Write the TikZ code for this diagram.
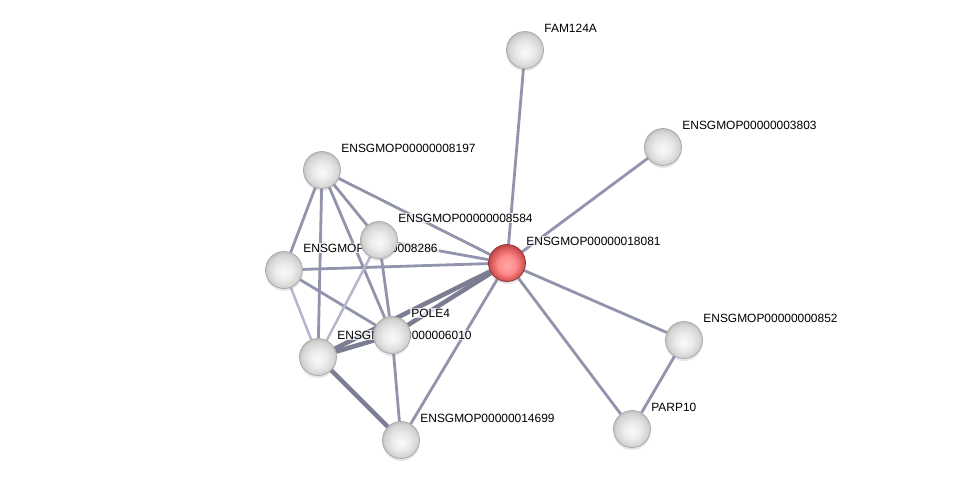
\documentclass[tikz,border=0pt]{standalone}
\usepackage{fontspec}
\setmainfont{Liberation Sans}
\usetikzlibrary{shadows}
\definecolor{edgecol}{RGB}{145,148,172}
\definecolor{edgelight}{RGB}{180,182,202}
\definecolor{queryrim}{RGB}{170,60,65}
\pgfdeclareradialshading{protball}{\pgfpoint{0bp}{-4bp}}{color(0bp)=(gray!4); color(12bp)=(gray!16); color(22bp)=(gray!34); color(27bp)=(gray!55); color(30bp)=(gray!65)}
\pgfdeclareradialshading{queryball}{\pgfpoint{0bp}{-4bp}}{color(0bp)=(red!35!white); color(12bp)=(red!45!white); color(22bp)=(red!60!white!85!black); color(27bp)=(queryrim); color(30bp)=(queryrim)}
\pgfdeclarelayer{edges}
\pgfdeclarelayer{labels}
\pgfsetlayers{edges,labels,main}
\begin{document}
\begin{tikzpicture}[x=0.02cm,y=-0.02cm,line cap=round,
		prot/.style={circle,inner sep=0pt,minimum size=0.74cm,shading=protball,draw=gray!70,line width=0.4pt,
			drop shadow={shadow xshift=0pt,shadow yshift=-0.05cm,opacity=0.2}},
		query/.style={prot,shading=queryball,draw=queryrim!80!black},
		lbl/.style={font=\fontsize{6.8}{8}\selectfont,anchor=west,inner sep=0.6pt,fill=white,fill opacity=0.75,text opacity=1},
		link/.style={draw=edgecol,line width=1.6pt},
		strong/.style={draw=edgecol!85!black,line width=2.6pt},
		weak/.style={draw=edgelight,line width=1.4pt}]
	\useasboundingbox (0,0) rectangle (975,485);
	% proteins
	\node[query] (q) at (507,263) {};
	\node[prot] (fam) at (525,50) {};
	\node[prot] (e3803) at (663,147) {};
	\node[prot] (e8197) at (322,170) {};
	\node[prot] (e8584) at (379,240) {};
	\node[prot] (e8286) at (284,270) {};
	\node[prot] (pole) at (392,335) {};
	\node[prot] (e6010) at (318,357) {};
	\node[prot] (e852) at (684,340) {};
	\node[prot] (parp) at (632,429) {};
	\node[prot] (e14699) at (401,440) {};
	% names
	\begin{pgfonlayer}{labels}
		\foreach \n/\t in {q/ENSGMOP00000018081,fam/FAM124A,e3803/ENSGMOP00000003803,
			e8197/ENSGMOP00000008197,e8584/ENSGMOP00000008584,e8286/ENSGMOP00000008286,
			pole/POLE4,e6010/ENSGMOP00000006010,e852/ENSGMOP00000000852,
			parp/PARP10,e14699/ENSGMOP00000014699}
		\node[lbl] (l\n) at ([shift={(18,-22)}]\n.center) {\t};
	\end{pgfonlayer}
	% links
	\begin{pgfonlayer}{edges}
		\foreach \a/\b in {q/fam,q/e3803,q/e8197,q/e8286,q/e8584,q/e14699,q/e852,q/parp,
			e852/parp,e8197/e8286,e8197/e6010,e8197/e8584,e8197/pole,
			e8286/pole,e8584/pole,pole/e14699}
		\draw[link] (\a) -- (\b);
		\foreach \a/\b in {q/pole,q/e6010,e6010/e14699,e6010/pole}
		\draw[strong] (\a) -- (\b);
		\foreach \a/\b in {e8286/e6010,e8584/e6010}
		\draw[weak] (\a) -- (\b);
	\end{pgfonlayer}
\end{tikzpicture}
\end{document}
